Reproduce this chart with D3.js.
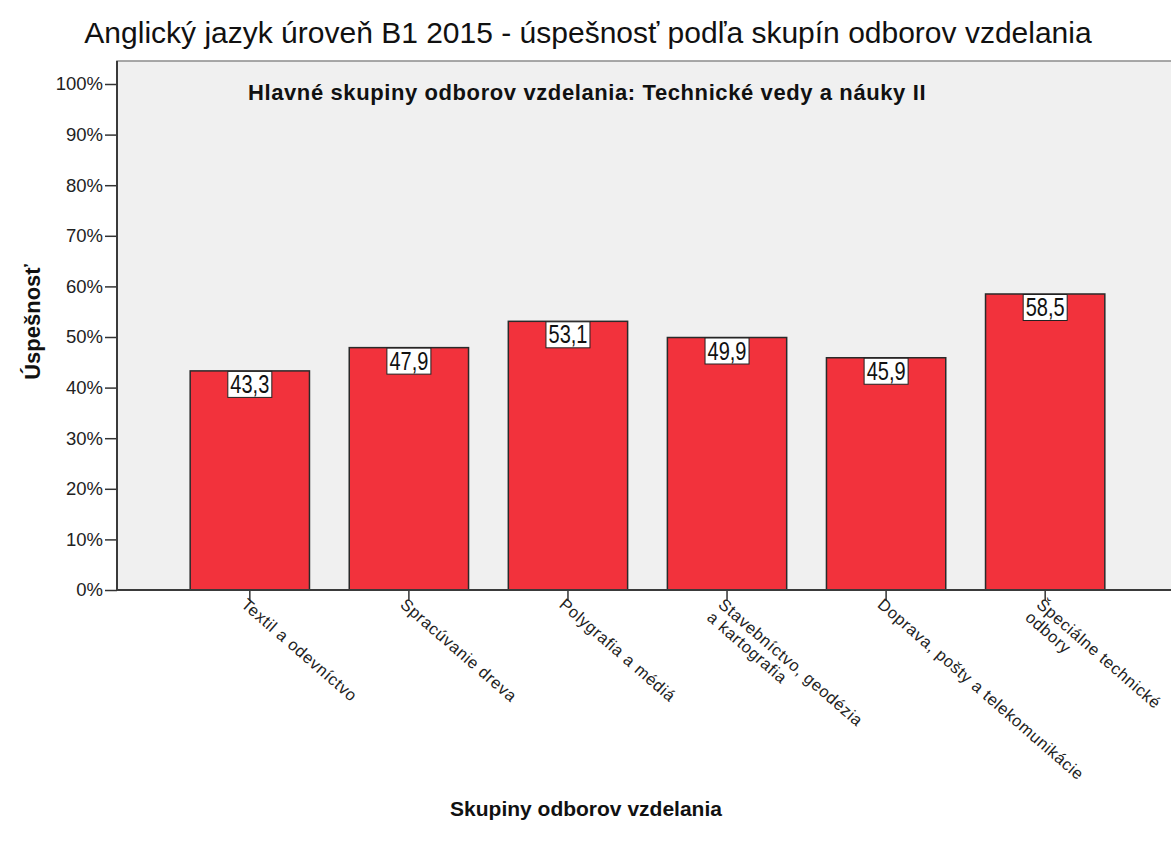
<!DOCTYPE html>
<html>
<head>
<meta charset="utf-8">
<script src="https://cdn.jsdelivr.net/npm/d3@7"></script>
<style>
  body { margin: 0; background: #fff; }
  svg { display: block; font-family: Arial, "Liberation Sans", sans-serif; }
</style>
</head>
<body>
<svg id="chart"></svg>
<script>
const width = 1171;
const height = 849;

// data
const categories = [
  "Textil a odevníctvo",
  "Spracúvanie dreva",
  "Polygrafia a médiá",
  "Stavebníctvo, geodézia\na kartografia",
  "Doprava, pošty a telekomunikácie",
  "Špeciálne technické\nodbory"
];
const values = [43.3, 47.9, 53.1, 49.9, 45.9, 58.5];
const yTicks = [0, 10, 20, 30, 40, 50, 60, 70, 80, 90, 100];

const title = "Anglický jazyk úroveň B1 2015 - úspešnosť podľa skupín odborov vzdelania";
const subTitle = "Hlavné skupiny odborov vzdelania: Technické vedy a náuky II";
const yTitle = "Úspešnosť";
const xTitle = "Skupiny odborov vzdelania";

const svg = d3.select('#chart').attr('width', width).attr('height', height);

const plot = {left: 117, top: 61, right: 1178, bottom: 590};

const x = d3.scaleBand()
  .domain(categories)
  .range([plot.left, plot.right])
  .paddingInner(0.25)
  .paddingOuter(0.46);
const y = d3.scaleLinear().domain([0, 100]).range([plot.bottom, 84]);

// plot background
svg.append('rect')
  .attr('x', plot.left).attr('y', plot.top)
  .attr('width', plot.right - plot.left).attr('height', plot.bottom - plot.top)
  .attr('fill', '#f0f0f0')
  .attr('stroke', '#8c8c8c').attr('stroke-width', 1.5);

// title
svg.append('text')
  .attr('x', 588).attr('y', 43)
  .attr('text-anchor', 'middle')
  .attr('font-size', 30)
  .attr('fill', '#111')
  .text(title);

svg.append('text')
  .attr('x', 248).attr('y', 100)
  .attr('font-size', 22).attr('font-weight', 'bold')
  .attr('letter-spacing', 0.6)
  .attr('fill', '#111')
  .text(subTitle);

// bars
svg.selectAll('rect.bar')
  .data(values)
  .join('rect')
  .attr('class', 'bar')
  .attr('x', (d, i) => x(categories[i]))
  .attr('y', d => y(d))
  .attr('width', x.bandwidth())
  .attr('height', d => y(0) - y(d))
  .attr('fill', '#f2323c')
  .attr('stroke', '#2a2a2a')
  .attr('stroke-width', 1.5);

// value labels (narrow, tall digits like the original)
const fmt = d => d3.format('.1f')(d).replace('.', ',');
const lab = svg.selectAll('g.lab')
  .data(values)
  .join('g')
  .attr('class', 'lab')
  .attr('transform', (d, i) => `translate(${x(categories[i]) + x.bandwidth() / 2},${y(d)})`);
lab.append('rect')
  .attr('x', -22).attr('y', 0.5)
  .attr('width', 44).attr('height', 26)
  .attr('fill', '#fff')
  .attr('stroke', '#222').attr('stroke-width', 1);
lab.append('text')
  .attr('transform', 'translate(0,22) scale(0.8,1)')
  .attr('text-anchor', 'middle')
  .attr('font-size', 25)
  .attr('fill', '#111')
  .text(fmt);

// y axis
const yAxis = svg.append('g')
  .attr('transform', `translate(${plot.left},0)`)
  .call(d3.axisLeft(y).tickValues(yTicks).tickSize(12).tickPadding(2).tickFormat(d => d + '%'));
yAxis.select('.domain').remove();
yAxis.selectAll('.tick line').attr('stroke', '#333').attr('stroke-width', 1.5);
yAxis.selectAll('.tick text').attr('font-size', 18.5).attr('fill', '#222').attr('font-family', 'Arial, "Liberation Sans", sans-serif');

// x axis
const xAxis = svg.append('g')
  .attr('transform', `translate(0,${plot.bottom})`)
  .call(d3.axisBottom(x).tickSize(11).tickFormat(''));
xAxis.select('.domain').remove();
xAxis.selectAll('.tick line').attr('stroke', '#333').attr('stroke-width', 1.5);

// axis lines
svg.append('line')
  .attr('x1', plot.left).attr('x2', plot.left)
  .attr('y1', plot.top).attr('y2', plot.bottom)
  .attr('stroke', '#3a3a3a').attr('stroke-width', 2);
svg.append('line')
  .attr('x1', plot.left).attr('x2', width)
  .attr('y1', plot.bottom).attr('y2', plot.bottom)
  .attr('stroke', '#3a3a3a').attr('stroke-width', 2);

// rotated category labels
const catLab = svg.selectAll('g.cat')
  .data(categories)
  .join('g')
  .attr('class', 'cat')
  .attr('transform', d => `translate(${x(d) + x.bandwidth() / 2 - 1},${plot.bottom + 6}) rotate(41)`);
catLab.append('text')
  .attr('font-size', 16.5)
  .attr('fill', '#222')
  .attr('letter-spacing', 0.6)
  .selectAll('tspan')
  .data(d => d.split('\n'))
  .join('tspan')
  .attr('x', 0)
  .attr('dy', (d, i) => i === 0 ? '0.8em' : '1.05em')
  .text(d => d);

// axis titles
svg.append('text')
  .attr('transform', `translate(40,322) rotate(-90)`)
  .attr('text-anchor', 'middle')
  .attr('font-size', 22).attr('font-weight', 'bold')
  .attr('fill', '#111')
  .text(yTitle);
svg.append('text')
  .attr('x', 586).attr('y', 816)
  .attr('text-anchor', 'middle')
  .attr('font-size', 21).attr('font-weight', 'bold')
  .attr('fill', '#111')
  .text(xTitle);
</script>
</body>
</html>
